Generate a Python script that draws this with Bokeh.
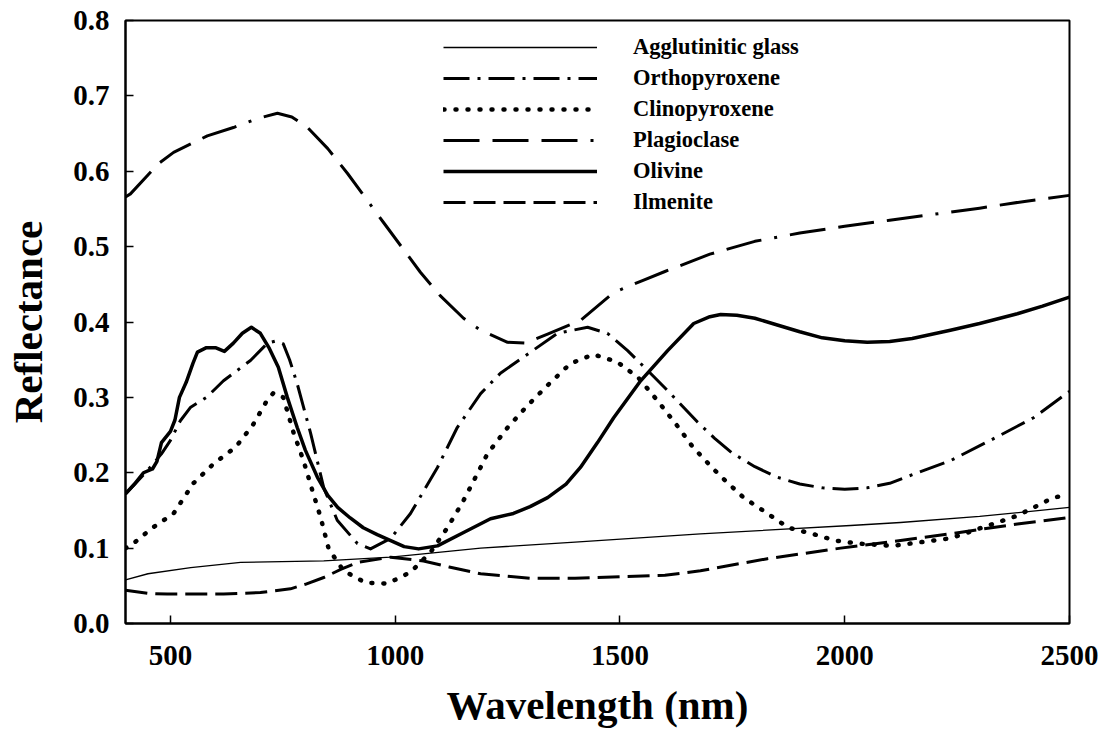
from bokeh.plotting import figure
from bokeh.models import Range1d, FixedTicker, PrintfTickFormatter, Legend, LegendItem
from bokeh.embed import file_html
from bokeh.resources import INLINE

# ---- data (wavelength nm, reflectance) ----
glass_wl = [400, 450, 545, 656, 841, 990, 1190, 1400, 1679, 2013, 2124, 2300, 2500]
glass_r = [0.058, 0.066, 0.074, 0.081, 0.083, 0.088, 0.100, 0.108, 0.119, 0.130, 0.134, 0.142, 0.154]

opx_wl = [400, 449, 480, 500, 522, 545, 580, 618, 678, 716, 735, 751, 765, 782, 812, 841, 871,
          916, 945, 990, 1034, 1094, 1138, 1190, 1234, 1301, 1361, 1428, 1472, 1517, 1561, 1606,
          1673, 1710, 1750, 1800, 1850, 1900, 1950, 2000, 2050, 2100, 2162, 2235, 2324, 2420, 2500]
opx_r = [0.172, 0.203, 0.225, 0.243, 0.269, 0.287, 0.300, 0.322, 0.349, 0.372, 0.375, 0.371, 0.350,
         0.318, 0.252, 0.180, 0.137, 0.106, 0.099, 0.113, 0.146, 0.207, 0.260, 0.305, 0.332, 0.360,
         0.385, 0.393, 0.385, 0.362, 0.336, 0.309, 0.267, 0.246, 0.226, 0.208, 0.194, 0.185, 0.180,
         0.178, 0.180, 0.186, 0.200, 0.216, 0.243, 0.273, 0.308]

cpx_wl = [400, 411, 460, 507, 551, 596, 645, 683, 712, 729, 751, 774, 796, 816, 834, 852, 885, 934,
          983, 1034, 1078, 1116, 1150, 1183, 1205, 1250, 1294, 1339, 1390, 1441, 1494, 1541, 1583,
          1624, 1661, 1706, 1730, 1775, 1828, 1875, 1928, 1979, 2031, 2106, 2235, 2384, 2464, 2490]
cpx_r = [0.100, 0.103, 0.127, 0.146, 0.186, 0.212, 0.234, 0.263, 0.293, 0.306, 0.300, 0.253, 0.216,
         0.176, 0.141, 0.099, 0.070, 0.054, 0.053, 0.068, 0.094, 0.127, 0.161, 0.199, 0.225, 0.260,
         0.289, 0.316, 0.345, 0.357, 0.347, 0.326, 0.296, 0.265, 0.235, 0.206, 0.192, 0.167, 0.146,
         0.127, 0.119, 0.110, 0.106, 0.103, 0.113, 0.143, 0.167, 0.170]

plag_wl = [400, 411, 473, 507, 582, 640, 694, 738, 770, 805, 850, 894, 974, 1056, 1100, 1152, 1190,
           1250, 1290, 1339, 1412, 1486, 1550, 1600, 1700, 1800, 1900, 2000, 2100, 2200, 2300, 2400, 2500]
plag_r = [0.566, 0.570, 0.610, 0.625, 0.647, 0.658, 0.670, 0.677, 0.672, 0.658, 0.630, 0.597, 0.532,
          0.466, 0.435, 0.405, 0.389, 0.373, 0.372, 0.384, 0.402, 0.439, 0.455, 0.467, 0.490, 0.507,
          0.518, 0.527, 0.535, 0.543, 0.551, 0.560, 0.568]

oliv_wl = [400, 420, 440, 460, 470, 480, 500, 510, 520, 535, 550, 560, 580, 600, 620, 640, 660, 680,
           700, 720, 740, 760, 782, 800, 827, 850, 872, 900, 929, 960, 990, 1020, 1052, 1094, 1150,
           1212, 1263, 1300, 1339, 1380, 1412, 1450, 1486, 1546, 1606, 1664, 1700, 1724, 1760, 1800,
           1850, 1900, 1950, 2000, 2050, 2100, 2150, 2235, 2300, 2384, 2440, 2500]
oliv_r = [0.172, 0.185, 0.200, 0.205, 0.215, 0.240, 0.255, 0.270, 0.300, 0.320, 0.345, 0.360, 0.366,
          0.366, 0.361, 0.372, 0.385, 0.393, 0.385, 0.365, 0.340, 0.300, 0.260, 0.230, 0.194, 0.170,
          0.154, 0.140, 0.127, 0.118, 0.110, 0.102, 0.099, 0.103, 0.120, 0.139, 0.146, 0.155, 0.167,
          0.185, 0.207, 0.240, 0.273, 0.322, 0.362, 0.398, 0.407, 0.410, 0.409, 0.405, 0.396, 0.387,
          0.379, 0.375, 0.373, 0.374, 0.378, 0.389, 0.398, 0.411, 0.421, 0.433]

ilm_wl = [400, 450, 493, 618, 700, 767, 800, 841, 880, 916, 990, 1063, 1120, 1190, 1300, 1400, 1500,
          1600, 1679, 1828, 1991, 2124, 2235, 2384, 2491]
ilm_r = [0.044, 0.040, 0.039, 0.039, 0.041, 0.046, 0.052, 0.061, 0.072, 0.081, 0.088, 0.083, 0.075,
         0.066, 0.060, 0.060, 0.062, 0.064, 0.070, 0.086, 0.100, 0.110, 0.119, 0.132, 0.140]

series_names = ["Agglutinitic glass", "Orthopyroxene", "Clinopyroxene", "Plagioclase", "Olivine", "Ilmenite"]
x_ticks = [500, 1000, 1500, 2000, 2500]
y_ticks = [0.0, 0.1, 0.2, 0.3, 0.4, 0.5, 0.6, 0.7, 0.8]

FONT = "Liberation Serif"

p = figure(output_backend="svg", toolbar_location=None,
           frame_width=944, frame_height=603,
           min_border_left=125, min_border_top=20, min_border_right=40, min_border_bottom=110,
           x_range=Range1d(400, 2500), y_range=Range1d(0, 0.8))

p.xgrid.visible = False
p.ygrid.visible = False
p.outline_line_color = "black"
p.outline_line_width = 2
p.background_fill_color = "white"
p.border_fill_color = "white"

styles = [
    dict(line_width=1.3, line_dash="solid"),
    dict(line_width=3, line_dash="26 8 3 8"),
    dict(line_width=4.5, line_dash="1 11", line_cap="round"),
    dict(line_width=3, line_dash="36 13 36 13 36 13 3 13"),
    dict(line_width=3.5, line_dash="solid"),
    dict(line_width=3, line_dash="22 8"),
]
data = [(glass_wl, glass_r), (opx_wl, opx_r), (cpx_wl, cpx_r), (plag_wl, plag_r), (oliv_wl, oliv_r), (ilm_wl, ilm_r)]

items = []
for name, (xs, ys), st in zip(series_names, data, styles):
    r = p.line(xs, ys, line_color="black", line_join="round", **st)
    items.append(LegendItem(label=name, renderers=[r]))

legend = Legend(items=items, location=(318, 408), glyph_width=154, glyph_height=26,
                label_height=26, label_standoff=36, spacing=5, padding=0, margin=0,
                border_line_color=None, background_fill_alpha=0,
                label_text_font=FONT, label_text_font_style="bold", label_text_font_size="22.5px",
                label_text_color="black")
p.add_layout(legend)

for ax in (p.xaxis[0], p.yaxis[0]):
    ax.axis_line_width = 2
    ax.axis_line_color = "black"
    ax.major_tick_in = 8
    ax.major_tick_out = 0
    ax.major_tick_line_width = 1.5
    ax.minor_tick_in = 0
    ax.minor_tick_out = 0
    ax.major_label_text_font = FONT
    ax.major_label_text_font_style = "bold"
    ax.major_label_text_font_size = "29px"
    ax.major_label_text_color = "black"
    ax.axis_label_text_font = FONT
    ax.axis_label_text_font_style = "bold"
    ax.axis_label_text_font_size = "41px"
    ax.axis_label_text_color = "black"

p.xaxis.ticker = FixedTicker(ticks=x_ticks)
p.yaxis.ticker = FixedTicker(ticks=y_ticks)
p.yaxis.formatter = PrintfTickFormatter(format="%.1f")
p.xaxis.axis_label = "Wavelength (nm)"
p.yaxis.axis_label = "Reflectance"
p.xaxis.major_label_standoff = 22
p.yaxis.major_label_standoff = 16
p.xaxis.axis_label_standoff = 14
p.yaxis.axis_label_standoff = 19

open("out.html", "w").write(file_html(p, INLINE))
